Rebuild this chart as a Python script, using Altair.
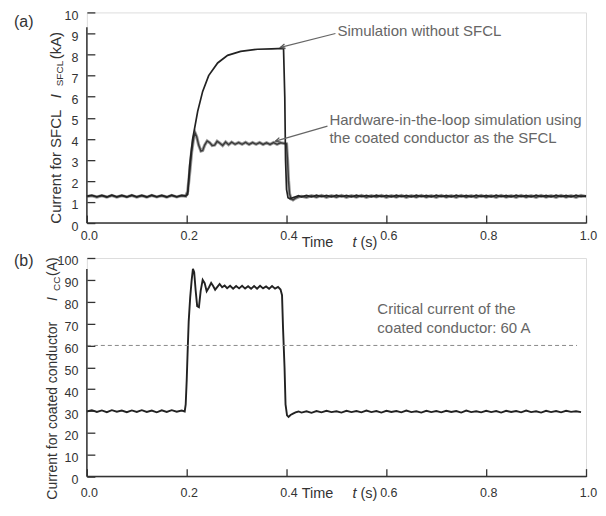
import altair as alt
import pandas as pd

FONT = "Liberation Sans"

# ---------------- data ----------------
T_PRE = [0.00, 0.01, 0.02, 0.03, 0.04, 0.05, 0.06, 0.07, 0.08, 0.09,
         0.10, 0.11, 0.12, 0.13, 0.14, 0.15, 0.16, 0.17, 0.18, 0.19]
T_POST = [0.43, 0.44, 0.45, 0.46, 0.47, 0.48, 0.49, 0.50, 0.51, 0.52,
          0.53, 0.54, 0.55, 0.56, 0.57, 0.58, 0.59, 0.60, 0.61, 0.62,
          0.63, 0.64, 0.65, 0.66, 0.67, 0.68, 0.69, 0.70, 0.71, 0.72,
          0.73, 0.74, 0.75, 0.76, 0.77, 0.78, 0.79, 0.80, 0.81, 0.82,
          0.83, 0.84, 0.85, 0.86, 0.87, 0.88, 0.89, 0.90, 0.91, 0.92,
          0.93, 0.94, 0.95, 0.96, 0.97, 0.98, 0.99, 1.00]

# (a) simulation without SFCL, kA
SIM_PRE = [1.28, 1.32, 1.25, 1.31, 1.24, 1.32, 1.25, 1.31, 1.24, 1.32,
           1.25, 1.31, 1.24, 1.32, 1.25, 1.31, 1.24, 1.32, 1.25, 1.31]
SIM_MID_T = [0.198, 0.202, 0.206, 0.212, 0.222, 0.232, 0.244, 0.262, 0.282, 0.308,
             0.342, 0.370, 0.394, 0.3965, 0.398, 0.400, 0.403, 0.407, 0.412, 0.418, 0.424]
SIM_MID = [1.29, 1.35, 2.75, 4.0, 5.3, 6.25, 7.0, 7.6, 7.96, 8.15,
           8.25, 8.27, 8.29, 6.0, 3.0, 1.6, 1.2, 1.15, 1.2, 1.25, 1.3]
SIM_POST = [1.24, 1.31, 1.24, 1.32, 1.25, 1.31, 1.24, 1.32, 1.25, 1.31,
            1.24, 1.32, 1.25, 1.31, 1.24, 1.32, 1.25, 1.31, 1.24, 1.32,
            1.25, 1.31, 1.24, 1.32, 1.25, 1.31, 1.24, 1.32, 1.25, 1.31,
            1.24, 1.32, 1.25, 1.31, 1.24, 1.32, 1.25, 1.31, 1.24, 1.32,
            1.25, 1.31, 1.24, 1.32, 1.25, 1.31, 1.24, 1.32, 1.25, 1.31,
            1.24, 1.32, 1.25, 1.31, 1.24, 1.32, 1.25, 1.29]

# (a) hardware-in-the-loop, kA
HW_PRE = [1.26, 1.30, 1.23, 1.30, 1.23, 1.31, 1.23, 1.30, 1.24, 1.31,
          1.23, 1.30, 1.23, 1.31, 1.24, 1.30, 1.23, 1.31, 1.24, 1.30]
HW_MID_T = [0.198, 0.202, 0.206, 0.210, 0.214, 0.217, 0.220, 0.224, 0.2285, 0.232,
            0.236, 0.241, 0.246, 0.251, 0.256, 0.261, 0.266, 0.272, 0.278, 0.284,
            0.290, 0.297, 0.304, 0.311, 0.318, 0.325, 0.332, 0.339, 0.346, 0.353,
            0.360, 0.367, 0.374, 0.381, 0.388, 0.395, 0.400, 0.402, 0.404, 0.406,
            0.409, 0.413, 0.418, 0.424]
HW_MID = [1.27, 1.5, 2.4, 3.4, 4.05, 4.27, 4.1, 3.7, 3.42, 3.45,
          3.7, 3.9, 3.82, 3.68, 3.7, 3.88, 3.8, 3.68, 3.85, 3.72,
          3.84, 3.74, 3.82, 3.74, 3.83, 3.73, 3.82, 3.74, 3.82, 3.73,
          3.81, 3.73, 3.82, 3.74, 3.81, 3.78, 3.76, 3.0, 2.0, 1.4,
          1.15, 1.1, 1.18, 1.24]
HW_POST = [1.27, 1.22, 1.30, 1.23, 1.31, 1.22, 1.30, 1.23, 1.31, 1.22,
           1.30, 1.23, 1.31, 1.22, 1.30, 1.24, 1.31, 1.22, 1.30, 1.23,
           1.31, 1.22, 1.30, 1.23, 1.31, 1.23, 1.30, 1.22, 1.31, 1.23,
           1.30, 1.22, 1.31, 1.23, 1.30, 1.22, 1.31, 1.23, 1.30, 1.22,
           1.31, 1.23, 1.30, 1.22, 1.31, 1.23, 1.30, 1.22, 1.31, 1.23,
           1.30, 1.22, 1.31, 1.23, 1.30, 1.22, 1.31, 1.26]

# (b) current in coated conductor, A
CC_PRE = [29.8, 30.4, 29.6, 30.3, 29.5, 30.4, 29.7, 30.2, 29.5, 30.3,
          29.6, 30.4, 29.6, 30.2, 29.4, 30.3, 29.6, 30.4, 29.7, 30.2]
CC_MID_T = [0.196, 0.198, 0.200, 0.202, 0.204, 0.207, 0.210, 0.2125, 0.215, 0.218,
            0.221, 0.2245, 0.228, 0.232, 0.236, 0.240, 0.2445, 0.249, 0.253, 0.257,
            0.2615, 0.266, 0.271, 0.276, 0.281, 0.287, 0.293, 0.299, 0.305, 0.311,
            0.317, 0.323, 0.329, 0.335, 0.341, 0.347, 0.353, 0.359, 0.365, 0.371,
            0.377, 0.383, 0.388, 0.391, 0.393, 0.396, 0.398, 0.401, 0.404, 0.408,
            0.413, 0.418, 0.424]
CC_MID = [29.8, 33, 44, 58, 71, 82, 90, 95, 93.5, 85,
          78, 77.5, 85, 90, 88.5, 84.8, 86.5, 88.6, 87.2, 85.5,
          86.8, 88.1, 86.6, 87.4, 86.2, 87.3, 86.0, 87.2, 86.1, 87.3,
          86.0, 87.1, 85.9, 87.2, 86.0, 87.3, 86.1, 87.0, 85.9, 87.2,
          86.0, 86.8, 85.6, 83, 68, 50, 33, 28, 27.3, 28.2,
          28.8, 29.4, 29.8]
CC_POST = [29.3, 29.9, 29.2, 30.0, 29.4, 30.1, 29.5, 29.9, 29.3, 30.1,
           29.5, 30.0, 29.4, 30.2, 29.5, 30.0, 29.3, 30.1, 29.6, 30.0,
           29.4, 30.2, 29.5, 29.9, 29.3, 30.1, 29.5, 30.0, 29.4, 30.1,
           29.6, 30.0, 29.3, 30.2, 29.5, 29.9, 29.4, 30.1, 29.5, 30.0,
           29.3, 30.1, 29.6, 30.0, 29.4, 30.2, 29.5, 29.9, 29.3, 30.1,
           29.5, 30.0, 29.4, 30.1, 29.6, 29.9, 29.5]

CRITICAL_CURRENT = 60
X_TICKS = [0.0, 0.2, 0.4, 0.6, 0.8, 1.0]
Y_TICKS_A = [0, 1, 2, 3, 4, 5, 6, 7, 8, 9, 10]
Y_TICKS_B = [0, 10, 20, 30, 40, 50, 60, 70, 80, 90, 100]

# arrows (tail, head) in data coordinates
ARROW_SIM = ([0.498, 0.388], [9.0, 8.34])
ARROW_HW = ([0.482, 0.378], [4.6, 3.89])

sim_df = pd.DataFrame({"t": T_PRE + SIM_MID_T + T_POST, "v": SIM_PRE + SIM_MID + SIM_POST})
hw_df = pd.DataFrame({"t": T_PRE + HW_MID_T + T_POST, "v": HW_PRE + HW_MID + HW_POST})
cc_df = pd.DataFrame({"t": T_PRE + CC_MID_T + T_POST[:len(CC_POST)], "v": CC_PRE + CC_MID + CC_POST})

W, H1, H2 = 500, 211, 219
AX = "#333333"
ANN = "#666666"


class Panel:
    def __init__(self, ytop, yticks, xpad):
        self.xscale = alt.Scale(domain=[0, 1], nice=False, zero=False)
        self.yscale = alt.Scale(domain=[0, ytop], nice=False, zero=True)
        self.xaxis = alt.Axis(values=X_TICKS, format=".1f", offset=-8, tickSize=8,
                              domain=False, grid=False, labelFontSize=12.5,
                              labelColor=AX, labelFont=FONT, tickColor=AX,
                              tickWidth=1.3, labelPadding=xpad, labelOffset=2,
                              labelOverlap=False, labelFlush=False, title="")
        self.yaxis = alt.Axis(values=yticks, offset=-8, tickSize=8, domain=False,
                              grid=False, labelFontSize=12.5, labelColor=AX,
                              labelFont=FONT, tickColor=AX, tickWidth=1.3,
                              labelPadding=9, labelOffset=3, labelOverlap=False,
                              labelFlush=False, title="")

    def xf(self):
        return alt.X("t:Q", scale=self.xscale, axis=self.xaxis)

    def yf(self):
        return alt.Y("v:Q", scale=self.yscale, axis=self.yaxis)

    def xd(self, val):
        return alt.XDatum(val, scale=self.xscale, axis=self.xaxis, type="quantitative")

    def yd(self, val):
        return alt.YDatum(val, scale=self.yscale, axis=self.yaxis, type="quantitative")

    def line(self, df, color, width):
        return alt.Chart(df).mark_line(color=color, strokeWidth=width).encode(
            x=self.xf(), y=self.yf(), order="t:Q")

    def domain_rules(self, ytop_line):
        one = alt.Data(values=[{}])
        xr = alt.Chart(one).mark_rule(color=AX, strokeWidth=1.5).encode(
            x=self.xd(0), x2=alt.X2Datum(1), y=self.yd(0))
        yr = alt.Chart(one).mark_rule(color=AX, strokeWidth=1.5).encode(
            x=self.xd(0), y=self.yd(0), y2=alt.Y2Datum(ytop_line))
        return [xr, yr]

    def arrow(self, tail_head, angle):
        xs, ys = tail_head
        df = pd.DataFrame({"t": xs, "v": ys})
        ln = alt.Chart(df).mark_line(color="#666666", strokeWidth=1.2).encode(
            x=self.xf(), y=self.yf())
        head = alt.Chart(df.iloc[[1]]).mark_point(
            shape="M-0.55,1.1L0,0L0.55,1.1", filled=False, color="#555555",
            strokeWidth=1.3, size=70, angle=angle, opacity=1).encode(
            x=self.xf(), y=self.yf())
        return [ln, head]


def txt(s, x, y, size=15, color=AX, angle=0, align="left", style="normal"):
    return alt.Chart(alt.Data(values=[{}])).mark_text(
        text=s, fontSize=size, color=color, angle=angle, align=align,
        baseline="middle", fontStyle=style, font=FONT
    ).encode(x=alt.value(x), y=alt.value(y))


# ---------------- panel (a) ----------------
pa = Panel(10, Y_TICKS_A, 6)
panel_a = alt.layer(
    pa.line(hw_df, "#9d9d9d", 3.2),
    pa.line(hw_df, "#3a3a3a", 1.4),
    pa.line(sim_df, "#222222", 1.7),
    *pa.domain_rules(9.3),
    *pa.arrow(ARROW_SIM, 256),
    *pa.arrow(ARROW_HW, 254),
    txt("Simulation without SFCL", 251, 19, color=ANN),
    txt("Hardware-in-the-loop simulation using", 243, 108, color=ANN),
    txt("the coated conductor as the SFCL", 243, 126, color=ANN),
    txt("(a)", -73, 10, size=16),
    txt("Current for SFCL", -31, 154.5, angle=270, align="center"),
    txt("I", -31, 86, angle=270, style="italic"),
    txt("SFCL", -27, 74, size=10, angle=270),
    txt("(kA)", -31, 47, angle=270),
    txt("Time", 231, 231, size=14.5, align="center"),
    txt("t", 266, 231, size=14.5, style="italic"),
    txt("(s)", 274, 231, size=14.5),
).properties(width=W, height=H1)

# ---------------- panel (b) ----------------
pb = Panel(100, Y_TICKS_B, 10)
crit = alt.Chart(alt.Data(values=[{}])).mark_rule(
    color="#8a8a8a", strokeWidth=1, strokeDash=[4, 3]).encode(
    x=pb.xd(0), x2=alt.X2Datum(0.982), y=pb.yd(CRITICAL_CURRENT))

panel_b = alt.layer(
    pb.line(cc_df, "#222222", 1.9),
    crit,
    *pb.domain_rules(95),
    txt("Critical current of the", 291, 51, color=ANN),
    txt("coated conductor: 60 A", 291, 70, color=ANN),
    txt("(b)", -73, 3.5, size=16),
    txt("Current for coated conductor", -34, 153, size=14, angle=270, align="center"),
    txt("I", -34, 43, size=14, angle=270, style="italic"),
    txt("CC", -30, 33, size=10, angle=270),
    txt("(A)", -34, 18, size=14, angle=270),
    txt("Time", 231, 236, size=14.5, align="center"),
    txt("t", 266, 236, size=14.5, style="italic"),
    txt("(s)", 274, 236, size=14.5),
).properties(width=W, height=H2)

chart = alt.vconcat(panel_a, panel_b, spacing=35, bounds="flush").properties(
    padding={"left": 5, "top": 0, "right": 0, "bottom": 0}
).configure_view(stroke=None).configure(background="white")

chart.save("out.html", embed_options={"renderer": "svg", "actions": False})
